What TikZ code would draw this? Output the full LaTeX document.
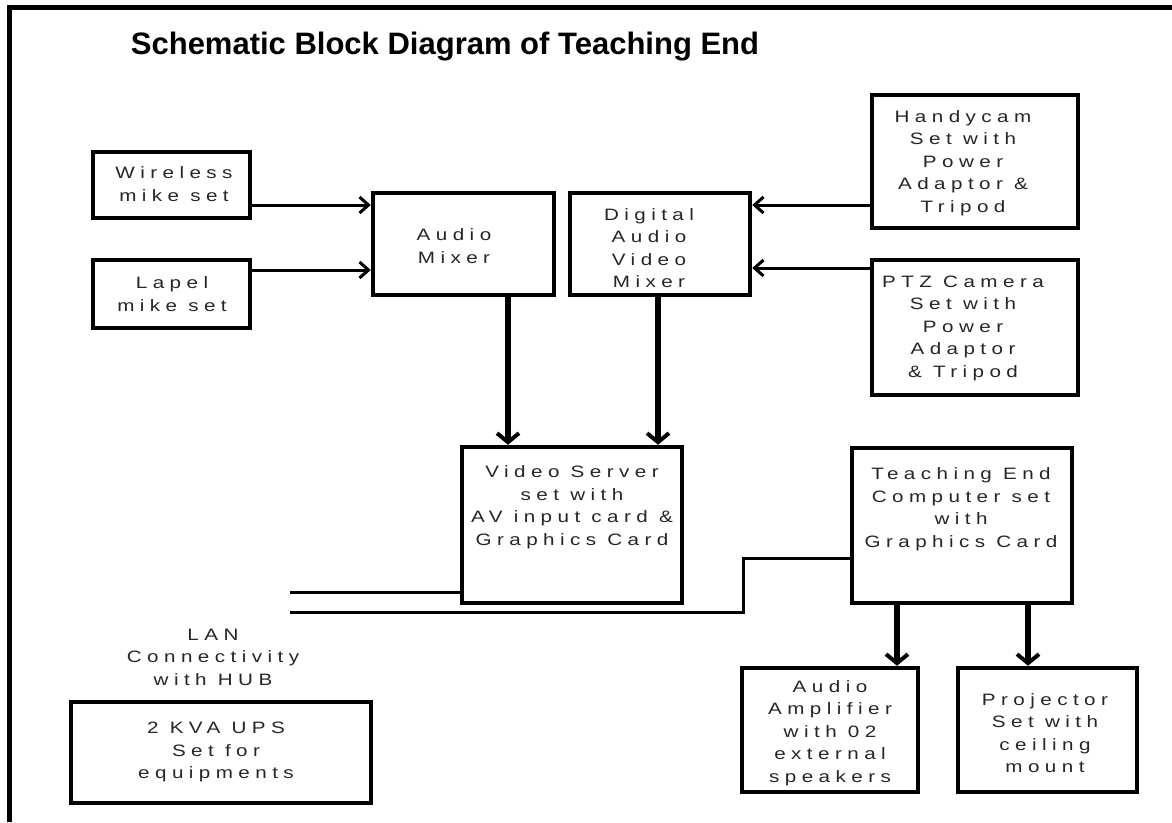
\documentclass[tikz,border=0pt]{standalone}
\usepackage{fontspec}
\setmainfont{Liberation Sans}
\newfontfamily\boxfont[LetterSpace=33,FakeStretch=1.25]{Liberation Sans}
\usetikzlibrary{arrows.meta}
\begin{document}
\begin{tikzpicture}[x=1pt,y=-1pt,
  box/.style={draw=black,line width=4.5pt,fill=white,inner sep=0pt},
  btext/.style={align=center,font=\boxfont\fontsize{16.5}{22.5}\selectfont,inner sep=0pt,text=black!85},
  harrow/.style={line width=3pt,-{Straight Barb[length=9pt,width=16pt,line width=3pt]}},
  varrow/.style={line width=5.5pt,-{Straight Barb[length=9pt,width=22pt,line width=4pt]}},
  lan/.style={line width=3pt}]
\useasboundingbox (0,0) rectangle (1172,822);
\fill[white] (0,0) rectangle (1172,822);
% frame
\draw[line width=5pt] (9,822) -- (9,7) -- (1172,7);
% title
\node[font=\fontsize{31}{36}\selectfont\bfseries,inner sep=0pt] (title) at (445,47) {Schematic Block Diagram of Teaching End};
% boxes
\node[box,minimum width=157pt,minimum height=66pt] (wire) at (171.5,185) {};
\node[btext] at (174,184) {Wireless\\mike set};
\node[box,minimum width=157pt,minimum height=68pt] (lapel) at (171.5,294) {};
\node[btext] at (172,294) {Lapel\\mike set};
\node[box,minimum width=181pt,minimum height=102pt] (amix) at (463.5,244) {};
\node[btext] at (454,246) {Audio\\Mixer};
\node[box,minimum width=180pt,minimum height=102pt] (dmix) at (660,244) {};
\node[btext] at (649,248) {Digital\\Audio\\Video\\Mixer};
\node[box,minimum width=206pt,minimum height=133pt] (handy) at (975,161.5) {};
\node[btext] at (963,163) {Handycam\\Set with\\Power\\Adaptor \&\\Tripod};
\node[box,minimum width=206pt,minimum height=135pt] (ptz) at (975,327.5) {};
\node[btext] at (963,328) {PTZ Camera\\Set with\\Power\\Adaptor\\\& Tripod};
\node[box,minimum width=220pt,minimum height=156pt] (vserv) at (572,525) {};
\node[btext] at (572,507) {Video Server\\set with\\AV input card \&\\Graphics Card};
\node[box,minimum width=220pt,minimum height=155pt] (tec) at (962,525.5) {};
\node[btext] at (961,509) {Teaching End\\Computer set\\with\\Graphics Card};
\node[box,minimum width=176pt,minimum height=124pt] (amp) at (830,730) {};
\node[btext] at (830,733) {Audio\\Amplifier\\with 02\\external\\speakers};
\node[box,minimum width=179pt,minimum height=124pt] (proj) at (1047.5,730) {};
\node[btext] at (1045,733) {Projector\\Set with\\ceiling\\mount};
\node[box,minimum width=300pt,minimum height=101pt] (ups) at (221,752.5) {};
\node[btext] at (216,752) {2 KVA UPS\\Set for\\equipments};
\node[btext] (lantext) at (213,657) {LAN\\Connectivity\\with HUB};
% connectors
\draw[harrow] (wire.east |- 0,205) -- (amix.west |- 0,205);
\draw[harrow] (lapel.east |- 0,270) -- (amix.west |- 0,270);
\draw[harrow] (handy.west |- 0,205) -- (dmix.east |- 0,205);
\draw[harrow] (ptz.west |- 0,268) -- (dmix.east |- 0,268);
\draw[varrow] (508,0 |- amix.south) -- (508,0 |- vserv.north);
\draw[varrow] (658,0 |- dmix.south) -- (658,0 |- vserv.north);
\draw[varrow] (897,0 |- tec.south) -- (897,0 |- amp.north);
\draw[varrow] (1028,0 |- tec.south) -- (1028,0 |- proj.north);
\coordinate (lanA) at (290,592);
\coordinate (lanB) at (290,612);
\draw[lan] (lanA) -- (vserv.west |- lanA);
\draw[lan] (lanB) -- (743,612) -- (743,558) -- (tec.west |- 0,558);
\end{tikzpicture}
\end{document}
